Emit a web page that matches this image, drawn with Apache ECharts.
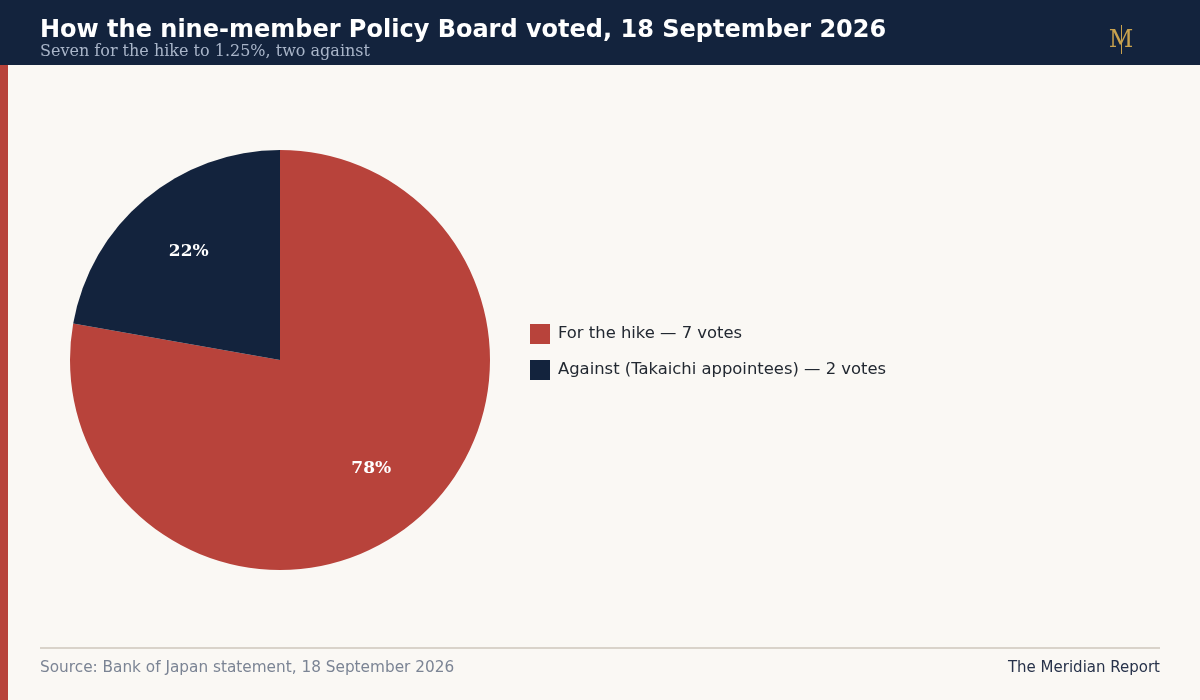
<!DOCTYPE html>
<html><head><meta charset="utf-8">
<script src="https://cdn.jsdelivr.net/npm/echarts@6/dist/echarts.min.js"></script>
<style>html,body{margin:0;padding:0;background:#faf8f4;}#c{width:1200px;height:700px;}</style>
</head><body><div id="c"></div>
<script>
const categories = ['For the hike — 7 votes', 'Against (Takaichi appointees) — 2 votes'];
const votes = [7, 2];
const colors = ['#b8433b', '#13233d'];
const titleText = 'How the nine-member Policy Board voted, 18 September 2026';
const subtitleText = 'Seven for the hike to 1.25%, two against';
const sourceText = 'Source: Bank of Japan statement, 18 September 2026';
const brandText = 'The Meridian Report';

const data = categories.map((n, i) => ({ name: n, value: votes[i], itemStyle: { color: colors[i] } }));
const chart = echarts.init(document.getElementById('c'));
chart.setOption({
  backgroundColor: '#faf8f4',
  animation: false,
  graphic: [
    { type: 'rect', shape: { x: 0, y: 0, width: 1200, height: 65 }, style: { fill: '#13233d' }, silent: true },
    { type: 'rect', shape: { x: 0, y: 65, width: 8, height: 635 }, style: { fill: '#b8433b' }, silent: true },
    { type: 'text', x: 40, y: 31, style: { text: titleText, fill: '#ffffff', font: 'bold 24px "DejaVu Sans"', textVerticalAlign: 'middle' } },
    { type: 'text', x: 40, y: 52, style: { text: subtitleText, fill: '#a9b5c9', font: '16px "DejaVu Serif"', textVerticalAlign: 'middle' } },
    { type: 'text', x: 1121, y: 41, style: { text: 'M', fill: '#c9a24e', font: '24px "DejaVu Serif"', textAlign: 'center', textVerticalAlign: 'middle' } },
    { type: 'line', shape: { x1: 1121.5, y1: 25, x2: 1121.5, y2: 54 }, style: { stroke: '#c9a24e', lineWidth: 1 } },
    { type: 'rect', shape: { x: 40, y: 647, width: 1120, height: 2 }, style: { fill: '#d9d3ca' }, silent: true },
    { type: 'text', x: 40, y: 668, style: { text: sourceText, fill: '#7b8494', font: '15.3px "DejaVu Sans"', textVerticalAlign: 'middle' } },
    { type: 'text', x: 1160, y: 668, style: { text: brandText, fill: '#27324a', font: '15px "DejaVu Sans"', textAlign: 'right', textVerticalAlign: 'middle' } }
  ],
  legend: {
    orient: 'vertical', left: 525, top: 319,
    itemWidth: 20, itemHeight: 20, itemGap: 16, icon: 'rect',
    textStyle: { fontFamily: 'DejaVu Sans', fontSize: 16.4, color: '#222831', padding: [0, 0, 0, 3] },
    data: categories
  },
  series: [
    {
      type: 'pie', center: [280, 360], radius: [0, 210], startAngle: 90, clockwise: true,
      label: { show: false }, labelLine: { show: false }, emphasis: { disabled: true },
      data: data
    },
    {
      type: 'pie', center: [280, 360], radius: [68, 210], startAngle: 90, clockwise: true,
      silent: true, emphasis: { disabled: true }, labelLine: { show: false },
      itemStyle: { color: 'rgba(0,0,0,0)' },
      label: {
        show: true, position: 'inside', color: '#ffffff',
        fontFamily: 'DejaVu Serif', fontWeight: 'bold', fontSize: 17, padding: [4, 0, 0, 0],
        formatter: p => Math.round(p.percent) + '%'
      },
      data: categories.map((n, i) => ({ name: n, value: votes[i], itemStyle: { color: 'rgba(0,0,0,0)' } }))
    }
  ]
});
</script></body></html>
